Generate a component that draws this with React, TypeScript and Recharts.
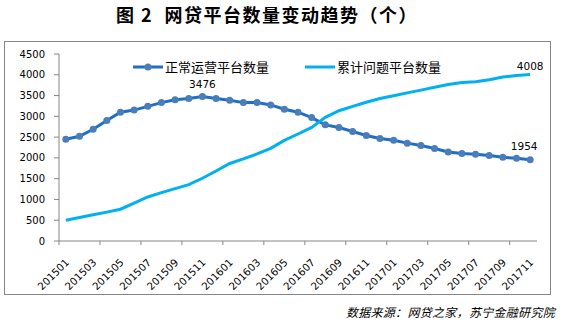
import React from "react"
import { LineChart, Line, XAxis, YAxis, LabelList } from "recharts"

const months = [
  "201501", "201502", "201503", "201504", "201505", "201506", "201507", "201508", "201509", "201510", "201511", "201512",
  "201601", "201602", "201603", "201604", "201605", "201606", "201607", "201608", "201609", "201610", "201611", "201612",
  "201701", "201702", "201703", "201704", "201705", "201706", "201707", "201708", "201709", "201710", "201711",
]

// 正常运营平台数量
const normalCount = [
  2450, 2520, 2690, 2900, 3100, 3150, 3240, 3330, 3400, 3430, 3476, 3430,
  3385, 3330, 3330, 3275, 3170, 3100, 2970, 2795, 2730, 2635, 2540, 2465,
  2425, 2355, 2300, 2225, 2140, 2105, 2090, 2060, 2015, 1990, 1954,
]

// 累计问题平台数量
const problemCount = [
  500, 565, 630, 695, 765, 910, 1060, 1165, 1260, 1355, 1510, 1685,
  1865, 1975, 2095, 2230, 2420, 2575, 2735, 2975, 3135, 3240, 3340, 3430,
  3495, 3565, 3630, 3700, 3765, 3815, 3835, 3880, 3945, 3985, 4008,
]

const yTicks = [0, 500, 1000, 1500, 2000, 2500, 3000, 3500, 4000, 4500]

// which points carry a value label, with the label's offset from the point
const normalLabels: Record<number, [number, number]> = { 10: [0, -9], 34: [-6, -10] }
const problemLabels: Record<number, [number, number]> = { 34: [0, -4] }

const data = months.map((m, i) => ({
  month: m,
  normal: normalCount[i],
  problem: problemCount[i],
}))

const W = 571
const H = 322
const PLOT_LEFT = 59
const PLOT_RIGHT = 537
const PLOT_TOP = 54
const PLOT_BOTTOM = 241
const STEP = (PLOT_RIGHT - PLOT_LEFT) / months.length

const DARK = "#1f6fc4"
const MARKER = "#4a7ebb"
const LIGHT = "#00b0f0"
const AXIS = "#868686"
const NUM_FONT = "DejaVu Sans, Verdana, sans-serif"
const CJK_FONT = "'Noto Sans CJK SC', 'Noto Sans', sans-serif"

function MonthTick(props: any) {
  const { x, y, payload } = props
  const i = payload?.index ?? props.index
  const lx = x + 4
  const ly = y + 22
  return (
    <g>
      {i % 3 === 0 && (
        <line x1={x - STEP / 2} x2={x - STEP / 2} y1={y} y2={y + 4} stroke={AXIS} />
      )}
      {i % 2 === 0 && (
        <text
          x={lx}
          y={ly}
          transform={`rotate(-45 ${lx} ${ly})`}
          textAnchor="end"
          fontSize={10.3}
          fontFamily={NUM_FONT}
          fill="#000"
        >
          {payload.value}
        </text>
      )}
    </g>
  )
}

function pointLabel(offsets: Record<number, [number, number]>) {
  return (p: any) => {
    const off = offsets[p.index]
    if (!off) return null
    return (
      <text
        x={p.x + off[0]}
        y={p.y + off[1]}
        textAnchor="middle"
        fontSize={10.5}
        fontFamily={NUM_FONT}
        fill="#000"
      >
        {p.value}
      </text>
    )
  }
}

function LegendItem({ label, color, marker }: { label: string; color: string; marker?: boolean }) {
  return (
    <div style={{ display: "flex", alignItems: "center", gap: 2 }}>
      <svg width={30} height={10}>
        <line x1={0} x2={30} y1={5} y2={5} stroke={color} strokeWidth={3} />
        {marker && <circle cx={15} cy={5} r={3.5} fill={MARKER} />}
      </svg>
      <span style={{ fontSize: 13, color: "#000" }}>{label}</span>
    </div>
  )
}

export default function App() {
  return (
    <div
      style={{
        position: "absolute",
        left: 0,
        top: 0,
        width: W,
        height: H,
        background: "#fff",
        fontFamily: CJK_FONT,
      }}
    >
      <div
        style={{
          position: "absolute",
          left: 116,
          top: 1,
          fontSize: 18,
          fontWeight: 700,
          letterSpacing: 1.5,
          whiteSpace: "pre",
          color: "#000",
        }}
      >
        {"图 2  网贷平台数量变动趋势（个）"}
      </div>

      <div
        style={{
          position: "absolute",
          left: 4,
          top: 41,
          width: 547,
          height: 254,
          boxSizing: "border-box",
          border: `1px solid ${AXIS}`,
        }}
      />

      <div style={{ position: "absolute", left: 0, top: 0 }}>
        <LineChart
          width={W}
          height={H}
          data={data}
          margin={{ top: PLOT_TOP, right: W - PLOT_RIGHT, left: 0, bottom: H - PLOT_BOTTOM - 30 }}
        >
          <XAxis
            dataKey="month"
            height={30}
            interval={0}
            padding={{ left: STEP / 2, right: STEP / 2 }}
            tickSize={0}
            tickMargin={0}
            axisLine={{ stroke: AXIS }}
            tick={<MonthTick />}
          />
          <YAxis
            width={PLOT_LEFT}
            domain={[0, 4500]}
            ticks={yTicks}
            interval={0}
            tickSize={5}
            tickMargin={9}
            axisLine={{ stroke: AXIS }}
            tickLine={{ stroke: AXIS }}
            tick={{ fill: "#000", fontSize: 10, fontFamily: NUM_FONT }}
          />
          <Line
            dataKey="normal"
            stroke={DARK}
            strokeWidth={3}
            dot={{ r: 3.5, fill: MARKER, stroke: MARKER, strokeWidth: 0 }}
            activeDot={false}
            isAnimationActive={false}
          >
            <LabelList dataKey="normal" content={pointLabel(normalLabels)} />
          </Line>
          <Line
            dataKey="problem"
            stroke={LIGHT}
            strokeWidth={3}
            dot={false}
            activeDot={false}
            isAnimationActive={false}
          >
            <LabelList dataKey="problem" content={pointLabel(problemLabels)} />
          </Line>
        </LineChart>
      </div>

      <div
        style={{
          position: "absolute",
          left: 133,
          top: 57,
          display: "flex",
          gap: 36,
        }}
      >
        <LegendItem label="正常运营平台数量" color={DARK} marker />
        <LegendItem label="累计问题平台数量" color={LIGHT} />
      </div>

      <div
        style={{
          position: "absolute",
          right: 16,
          top: 303,
          fontSize: 12,
          fontStyle: "italic",
          letterSpacing: 0.3,
          color: "#000",
        }}
      >
        数据来源：网贷之家，苏宁金融研究院
      </div>
    </div>
  )
}
